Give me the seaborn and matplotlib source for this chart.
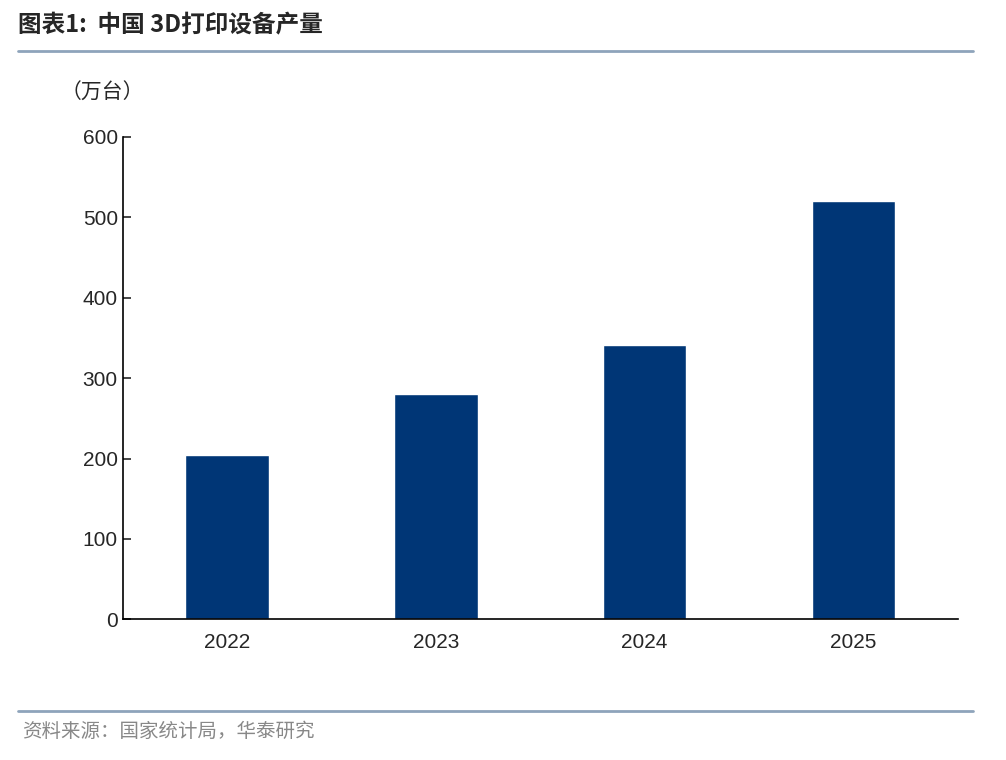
import matplotlib
matplotlib.use("Agg")
import matplotlib.pyplot as plt
import seaborn as sns
import pandas as pd

years = ["2022", "2023", "2024", "2025"]
output = [204, 280, 341, 520]

sns.set_style("white")
plt.rcParams['font.family'] = ['Liberation Sans', 'Noto Sans CJK SC', 'DejaVu Sans']

fig = plt.figure(figsize=(10.06, 7.60), dpi=100)
ax = fig.add_axes([0.122, 0.185, 0.83, 0.635])
df = pd.DataFrame({"year": years, "v": output})
sns.barplot(data=df, x="year", y="v", color="#003676", width=0.4, saturation=1, ax=ax)
ax.set_ylim(0, 600)
ax.set_xlim(-0.5, 3.5)
ax.set_yticks(range(0, 601, 100))
ax.set_xlabel(""); ax.set_ylabel("")
for s in ["top", "right"]:
    ax.spines[s].set_visible(False)
for s in ["left", "bottom"]:
    ax.spines[s].set_color("black"); ax.spines[s].set_linewidth(1.2)
ax.set_xticks([-0.5, 0.5, 1.5, 2.5, 3.5], minor=True)
ax.tick_params(axis="x", which="major", length=0, labelsize=15, pad=10)
ax.tick_params(axis="x", which="minor", direction="in", length=6, width=1.2)
ax.tick_params(axis="y", direction="in", length=6, width=1.2, labelsize=15, left=True)

fig.text(0.018, 0.958, "图表1:  中国 3D打印设备产量", fontsize=17, fontweight="bold",
         family=['Noto Sans CJK SC', 'DejaVu Sans'])
fig.add_artist(plt.Line2D([0.018, 0.967], [0.933, 0.933], color="#8ea4bb", lw=2))
fig.text(0.06, 0.87, "（万台）", fontsize=15, family=['Noto Sans CJK SC'])
fig.add_artist(plt.Line2D([0.018, 0.967], [0.065, 0.065], color="#8ea4bb", lw=2))
fig.text(0.022, 0.03, "资料来源：国家统计局，华泰研究", fontsize=14, color="#888888",
         family=['Noto Sans CJK SC'])
fig.savefig("out.png", dpi=100)
